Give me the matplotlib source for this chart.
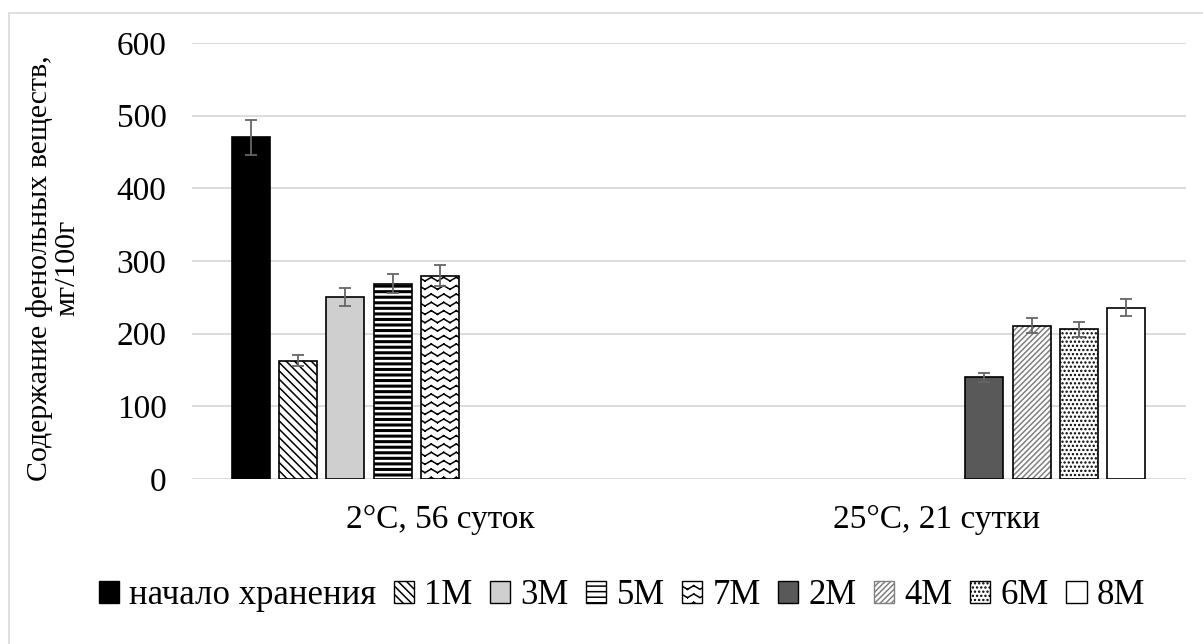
import warnings
import numpy as np
import matplotlib
matplotlib.use("Agg")
import matplotlib.pyplot as plt
import matplotlib.patches as mpatches
import matplotlib.hatch as mhatch
from matplotlib.path import Path

warnings.filterwarnings("ignore")

# данные
categories = ["2°C, 56 суток", "25°C, 21 сутки"]
series = ["начало хранения", "1M", "3M", "5M", "7M", "2M", "4M", "6M", "8M"]
nan = np.nan
values = [
    [470, nan],
    [163, nan],
    [250, nan],
    [269, nan],
    [280, nan],
    [nan, 140],
    [nan, 211],
    [nan, 206],
    [nan, 236],
]
errors = [
    [24, nan],
    [8, nan],
    [12.5, nan],
    [13.5, nan],
    [14, nan],
    [nan, 6],
    [nan, 10.5],
    [nan, 10.5],
    [nan, 12],
]
yticks = [0, 100, 200, 300, 400, 500, 600]


# волнистая штриховка (в matplotlib такой нет)
class WaveHatch(mhatch.HatchPatternBase):
    def __init__(self, hatch, density):
        self.rows = hatch.count('~') * density
        self.segs = 2 * max(self.rows * 2 // 3, 1)
        self.num_vertices = self.rows * self.segs * 2

    def set_vertices_and_codes(self, vertices, codes):
        xs = np.linspace(0, 1, self.segs + 1)
        amp = 0.22 / self.rows
        ys = np.where(np.arange(self.segs + 1) % 2, amp, -amp)
        k = 0
        for r in range(self.rows):
            y0 = (r + 0.5) / self.rows
            for j in range(self.segs):
                vertices[k] = (xs[j], y0 + ys[j])
                vertices[k + 1] = (xs[j + 1], y0 + ys[j + 1])
                codes[k] = Path.MOVETO
                codes[k + 1] = Path.LINETO
                k += 2


mhatch._hatch_types.append(WaveHatch)

# стиль каждого ряда: заливка, штриховка, цвет штриховки
styles = [
    ("black", None, "black"),
    ("white", "\\\\\\\\", "black"),
    ("#cfcfcf", None, "black"),
    ("white", "---", "black"),
    ("white", "~~", "black"),
    ("#595959", None, "black"),
    ("white", "//////", "#808080"),
    ("white", "....", "black"),
    ("white", None, "black"),
]

plt.rcParams['font.family'] = ['Liberation Serif', 'DejaVu Serif']
plt.rcParams['hatch.linewidth'] = 1.1
FS = 24

fig = plt.figure(figsize=(12.03, 6.44), dpi=100)
ax = fig.add_axes([0.1592, 0.2562, 0.8263, 0.677])

x = np.arange(len(categories))
step = 0.0952
width = 0.0765
n = len(series)

for i, name in enumerate(series):
    fc, hatch, hc = styles[i]
    xs = x + (i - (n - 1) / 2) * step
    v = np.array(values[i], dtype=float)
    if hatch is not None:
        b = ax.bar(xs, v, width, color=fc, edgecolor=hc, hatch=hatch, linewidth=0, zorder=2)
        if i == 3:
            for p in b:
                if hasattr(p, "set_hatch_linewidth"):
                    p.set_hatch_linewidth(2.2)
    ax.bar(xs, v, width, color=fc if hatch is None else "none", edgecolor="black",
           linewidth=1.2, zorder=3)
    ax.errorbar(xs, v, yerr=errors[i], fmt="none", ecolor="#666666",
                elinewidth=1.3, capsize=4.3, capthick=1.3, zorder=4)

ax.set_xlim(-0.5, 1.5)
ax.set_ylim(0, 600)
ax.set_yticks(yticks)
ax.set_xticks(x)
ax.set_xticklabels(categories)
ax.tick_params(axis="both", length=0, labelsize=FS)
ax.tick_params(axis="y", pad=18)
ax.tick_params(axis="x", pad=18)
ax.grid(axis="y", color="#d9d9d9", linewidth=1.3, zorder=0)
ax.set_axisbelow(True)
for s in ax.spines.values():
    s.set_visible(False)

fig.text(53 / 1203, 1 - 268 / 644, "Содержание фенольных веществ,\nмг/100г",
         rotation=90, ha="center", va="center", multialignment="center",
         fontsize=21.5, linespacing=1.05)

handles = []
for i, name in enumerate(series):
    fc, hatch, hc = styles[i]
    ec = "#808080" if i == 6 else "black"
    handles.append(mpatches.Patch(facecolor=fc, edgecolor=ec, hatch=hatch, linewidth=1))
fig.legend(handles, series, loc="center", bbox_to_anchor=(0.517, 1 - 596 / 644),
           ncol=n, frameon=False, fontsize=25, handlelength=0.58, handleheight=0.58,
           handletextpad=0.3, columnspacing=0.5, borderaxespad=0)

# рамка вокруг диаграммы
fig.patches.append(mpatches.Rectangle((9 / 1203, -0.1), 1.2, 1 - 13 / 644 + 0.1,
                                      transform=fig.transFigure, fill=False,
                                      edgecolor="#d9d9d9", linewidth=1.2))

fig.savefig("out.png", dpi=100)
